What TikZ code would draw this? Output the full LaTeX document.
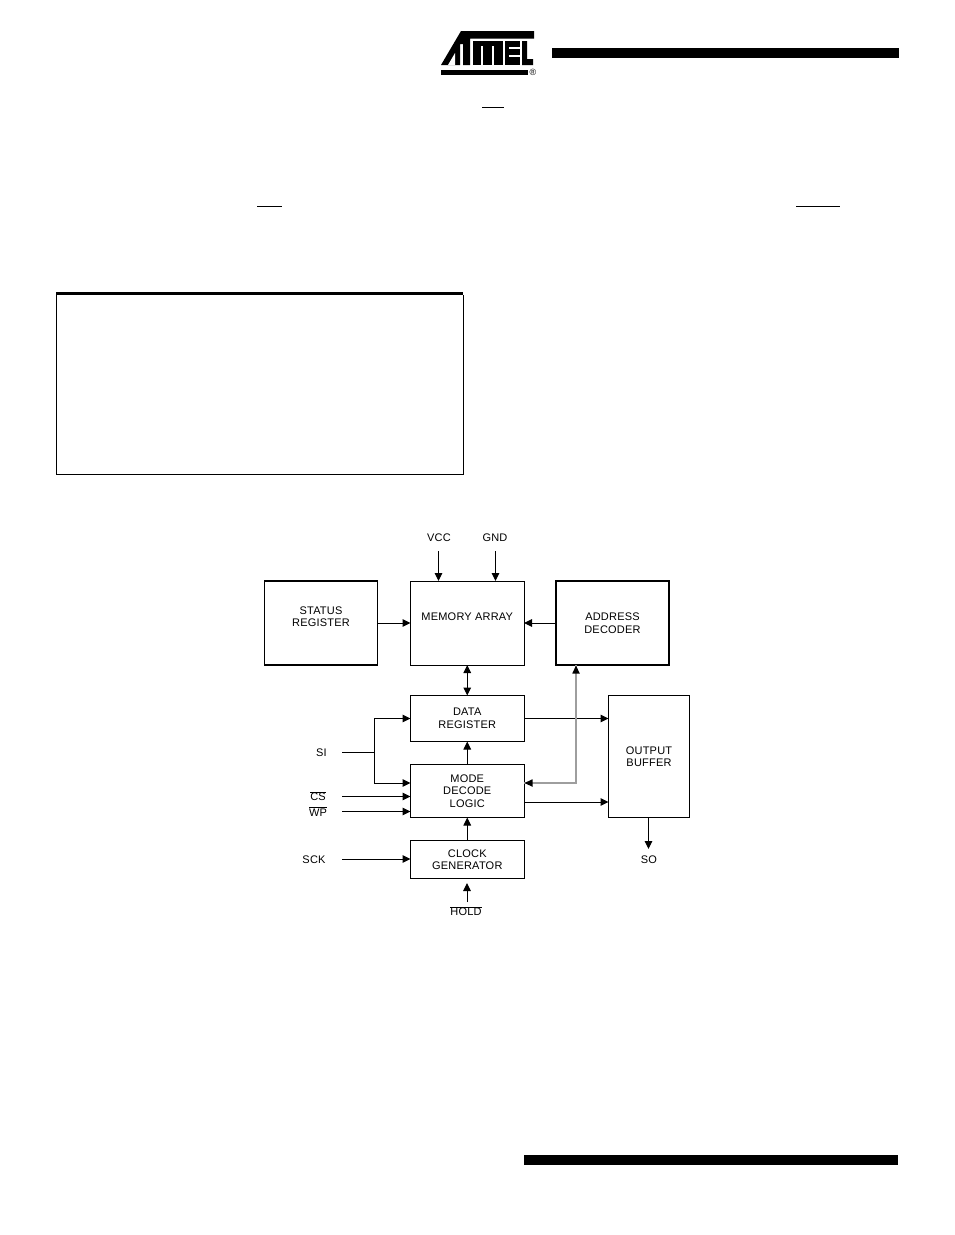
\documentclass[tikz,border=0pt]{standalone}
\usepackage{fontspec}
\setmainfont{Liberation Sans}[LetterSpace=2]
\usetikzlibrary{arrows.meta}
\tikzset{
  block/.style={draw=black,line width=1pt,outer sep=0pt,fill=white,inner sep=0pt,align=center,font=\fontsize{11}{12.5}\selectfont,anchor=north west},
  heavy/.style={line width=1.7pt},
  lab/.style={inner sep=0pt,font=\fontsize{11}{12.5}\selectfont},
  wire/.style={line width=1pt,-{Triangle[length=8pt,width=7.5pt]}},
  plain/.style={line width=1pt},
  both/.style={line width=1pt,{Triangle[length=8pt,width=7.5pt]}-{Triangle[length=8pt,width=7.5pt]}},
  grey/.style={line width=1.2pt,draw=black!38}
}
\begin{document}
\begin{tikzpicture}[x=1pt,y=-1pt]
\useasboundingbox (0,0) rectangle (954,1235);
% page furniture
\fill (552,48) rectangle (899,58);
\fill (524,1155) rectangle (898,1165);
\draw[line width=1pt] (482,107.5) -- (504,107.5);
\draw[line width=1pt] (257,206.5) -- (282,206.5);
\draw[line width=1pt] (796,206.5) -- (840,206.5);
\draw[line width=1pt] (56.5,295) -- (56.5,474) -- (463,474) -- (463,295);
\fill (56,292) rectangle (463,295);
% logo
\fill (461,31) -- (534,31) -- (534,38.5) -- (470,38.5) -- (470,65) -- (463,65) -- (463,44) -- (460,44) -- (460,65) -- (441,65) -- cycle;
\fill[white] (448,65) -- (455,53) -- (455,65) -- cycle;
\fill (473,41) rectangle (503,65);
\fill[white] (481,46) rectangle (483,65);
\fill[white] (492,46) rectangle (494,65);
\fill (505,41) rectangle (520,65);
\fill[white] (509,47) rectangle (520,49);
\fill[white] (509,55) rectangle (520,57);
\fill (522,41) -- (527,41) -- (527,59) -- (533,59) -- (533,65) -- (522,65) -- cycle;
\fill (441,70) rectangle (528,75);
\node[inner sep=0pt,font=\fontsize{9}{9}\selectfont] (reg) at (533,72) {®};
% blocks
\node[block,heavy,minimum width=113pt,minimum height=84pt] (status) at (264.5,581) {STATUS\\REGISTER\\~};
\node[block,minimum width=113.5pt,minimum height=84pt] (memory) at (410.5,581) {\raisebox{12pt}{MEMORY ARRAY}};
\node[block,heavy,minimum width=113pt,minimum height=84pt] (address) at (556,581) {ADDRESS\\DECODER};
\node[block,minimum width=113.5pt,minimum height=46pt] (data) at (410.5,695.5) {DATA\\REGISTER};
\node[block,minimum width=113.5pt,minimum height=53pt] (mode) at (410.5,764.5) {MODE\\DECODE\\LOGIC};
\node[block,minimum width=113.5pt,minimum height=38pt] (clock) at (410.5,840.5) {CLOCK\\GENERATOR};
\node[block,minimum width=81pt,minimum height=122pt] (output) at (608.5,695.5) {OUTPUT\\BUFFER};
% labels
\node[lab] (vcc) at (439,538) {VCC};
\node[lab] (gnd) at (495,538) {GND};
\node[lab] (si) at (321.5,752.5) {SI};
\node[lab] (cs) at (318,796) {$\overline{\hbox{CS}}$};
\node[lab] (wp) at (318,811.5) {$\overline{\hbox{WP}}$};
\node[lab] (sck) at (314,859.5) {SCK};
\node[lab] (hold) at (466,911) {$\overline{\hbox{HOLD}}$};
\node[lab] (so) at (649,859.5) {SO};
% free ends
\coordinate (vccs) at (438.5,551);
\coordinate (gnds) at (495.5,551);
\coordinate (sis) at (342,752.5);
\coordinate (join) at (374,752.5);
\coordinate (css) at (342,796.5);
\coordinate (wps) at (342,811.5);
\coordinate (scks) at (342,859);
\coordinate (holds) at (467,902);
\coordinate (holde) at (467,883);
\coordinate (soe) at (648.5,849);
\coordinate (greyx) at (576,783);
% connectors
\draw[wire] (vccs) -- (vccs |- memory.north);
\draw[wire] (gnds) -- (gnds |- memory.north);
\draw[wire] (status.east) -- (memory.west);
\draw[wire] (address.west) -- (memory.east);
\draw[both] (memory.south) -- (data.north);
\draw[plain] (sis) -- (join);
\draw[wire] (join) |- (data.west);
\draw[wire] (join) |- (greyx -| mode.west);
\draw[wire] (css) -- (css -| mode.west);
\draw[wire] (wps) -- (wps -| mode.west);
\draw[wire] (scks) -- (scks -| clock.west);
\draw[wire] (mode.north) -- (data.south);
\draw[wire] (clock.north) -- (mode.south);
\draw[wire] (holds) -- (holde);
\draw[wire] (data.east) -- (output.west |- data.east);
\draw[wire] (mode.east |- 0,802) -- (output.west |- 0,802);
\draw[wire] (soe |- output.south) -- (soe);
\draw[grey] (mode.east |- greyx) -- (greyx) -- (greyx |- address.south);
\fill (mode.east |- greyx) ++(0.5,0) -- ++(8,-3.75) -- ++(0,7.5) -- cycle;
\fill (greyx |- address.south) ++(0,0.5) -- ++(-3.75,8) -- ++(7.5,0) -- cycle;
\end{tikzpicture}
\end{document}
